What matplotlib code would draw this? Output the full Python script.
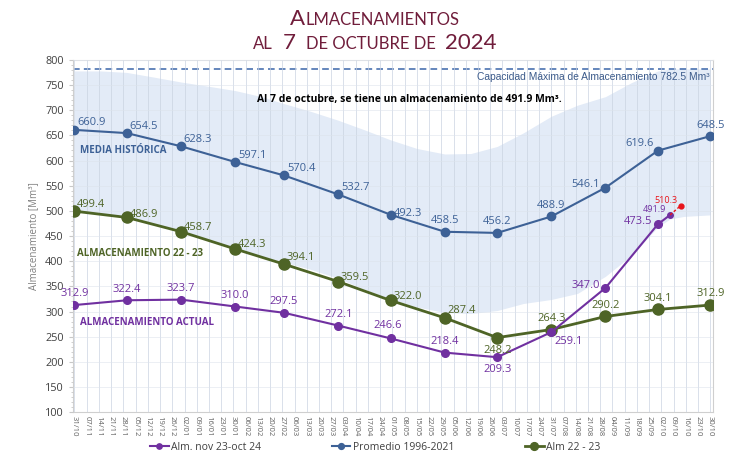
import matplotlib
matplotlib.use("Agg")
import matplotlib.pyplot as plt
import matplotlib.dates as mdates
import pandas as pd
from matplotlib.offsetbox import TextArea, HPacker, AnchoredOffsetbox
from matplotlib.ticker import MultipleLocator

plt.rcParams["font.family"] = ["Open Sans", "DejaVu Sans"]

# monthly points (day/month on the chart's reference calendar)
fechas = ["31/10", "30/11", "31/12", "31/01", "28/02", "31/03", "30/04", "31/05",
          "30/06", "31/07", "31/08", "30/09", "30/10"]
promedio = [660.9, 654.5, 628.3, 597.1, 570.4, 532.7, 492.3, 458.5, 456.2,
            488.9, 546.1, 619.6, 648.5]
alm_22_23 = [499.4, 486.9, 458.7, 424.3, 394.1, 359.5, 322.0, 287.4, 248.2,
             264.3, 290.2, 304.1, 312.9]
fechas_actual = fechas[:12] + ["07/10"]
actual = [312.9, 322.4, 323.7, 310.0, 297.5, 272.1, 246.6, 218.4, 209.3,
          259.1, 347.0, 473.5, 491.9]
fechas_pron = ["07/10", "13/10"]
pronostico = [491.9, 510.3]

capacidad = 782.5

# historical envelope (shaded band)
fechas_banda = ["31/10", "15/11", "30/11", "15/12", "31/12", "15/01", "31/01", "15/02",
                "28/02", "15/03", "31/03", "15/04", "30/04", "15/05", "31/05", "15/06",
                "30/06", "15/07", "31/07", "15/08", "31/08", "15/09", "30/09", "07/10",
                "15/10", "30/10"]
banda_max = [778, 778, 775, 766, 756, 748, 739, 727, 713, 698, 680, 661, 641,
             624, 613, 614, 628, 655, 688, 710, 727, 755, 778, 782, 782, 782]
banda_min = [499, 494, 487, 475, 459, 443, 426, 410, 398, 384, 366, 344, 325,
             309, 298, 296, 302, 316, 324, 336, 370, 412, 468, 484, 489, 492]

c_azul = "#3d6196"
c_verde = "#4e6426"
c_morado = "#7030a0"
c_rojo = "#e8141b"
c_banda = "#e3ebf7"
c_titulo = "#701d3b"


def a_fecha(lista):
    # 31/10 starts the cycle (2022), everything else falls in 2023
    out = []
    for f in lista:
        d, m = int(f[:2]), int(f[3:])
        anio = 2022 if (m, d) >= (10, 31) and not (m == 10 and d < 31) else 2023
        if m == 10 and d == 31:
            anio = 2022
        out.append(pd.Timestamp(anio, m, d))
    return pd.DatetimeIndex(out)


x = a_fecha(fechas)
xa = a_fecha(fechas_actual)
xp = a_fecha(fechas_pron)
xb = a_fecha(fechas_banda)

fig = plt.figure(figsize=(7.5, 4.57), dpi=100)
ax = fig.add_axes([0.097, 0.098, 0.854, 0.771])

ax.fill_between(xb, banda_min, banda_max, color=c_banda, lw=0, zorder=1)
ax.axhline(capacidad, color="#4a72b0", ls=(0, (4, 2.5)), lw=1.2, zorder=2)

ax.plot(x, promedio, color=c_azul, lw=1.5, marker="o", ms=6, zorder=4,
        label="Promedio 1996-2021")
ax.plot(x, alm_22_23, color=c_verde, lw=2, marker="o", ms=8, zorder=3,
        label="Alm 22 - 23")
ax.plot(xa, actual, color=c_morado, lw=1.5, marker="o", ms=5.5, zorder=5,
        label="Alm. nov 23-oct 24", markevery=list(range(12)))
ax.plot(xa[-1:], actual[-1:], color=c_morado, marker="o", ms=4, ls="none", zorder=5)
ax.plot(xp, pronostico, color=c_rojo, lw=1, ls=(0, (2, 1.5)), zorder=5)
ax.plot(xp[-1:], pronostico[-1:], color=c_rojo, marker="o", ms=3.5, ls="none", zorder=5)


# data labels: (dx, dy, ha) in points
def etiquetas(xs, ys, offs, color, size=8):
    for xi, yi, (dx, dy, ha) in zip(xs, ys, offs):
        ax.annotate(f"{yi:.1f}", (xi, yi), xytext=(dx, dy), textcoords="offset points",
                    ha=ha, va="center", color=color, fontsize=size, zorder=6)


R = (2, 5, "left")
U = (0, 8, "center")
D = (0, -9, "center")
L = (-4, 2, "right")
etiquetas(x, promedio, [R, R, R, R, R, R, (2, 1, "left"), U, U, U, L, (-3, 5, "right"), U], c_azul)
etiquetas(x, alm_22_23, [R, (2, 2, "left"), (2, 3, "left"), (2, 3, "left"), R, (2, 3, "left"),
                         (2, 3, "left"), R, D, U, U, U, U], c_verde)
etiquetas(xa[:12], actual[:12], [U, U, U, U, U, U, (-2, 9, "center"), U, D, (2, -7, "left"),
                                  L, L], c_morado)
ax.annotate(f"{actual[-1]:.1f}", (xa[-1], actual[-1]), xytext=(-3, 4), textcoords="offset points",
            ha="right", va="center", color=c_morado, fontsize=6.5)
ax.annotate(f"{pronostico[-1]:.1f}", (xp[-1], pronostico[-1]), xytext=(-2, 4),
            textcoords="offset points", ha="right", va="center", color=c_rojo, fontsize=6.5)

# series names
ax.text(0.012, 0.743, "MEDIA HISTÓRICA", transform=ax.transAxes, color=c_azul,
        fontsize=7, fontweight="bold", va="center")
ax.text(0.006, 0.451, "ALMACENAMIENTO 22 - 23", transform=ax.transAxes, color=c_verde,
        fontsize=7, fontweight="bold", va="center")
ax.text(0.012, 0.256, "ALMACENAMIENTO ACTUAL", transform=ax.transAxes, color=c_morado,
        fontsize=7, fontweight="bold", va="center")

ax.text(0.995, 0.95, "Capacidad Máxima de Almacenamiento 782.5 Mm³",
        transform=ax.transAxes, ha="right", va="center", color="#3b5a8a",
        fontsize=7.4, family=["Liberation Sans", "DejaVu Sans"])
ax.text(0.525, 0.888, "Al 7 de octubre, se tiene un almacenamiento de 491.9 Mm³.",
        transform=ax.transAxes, ha="center", va="center", color="black",
        fontsize=7.5, fontweight="bold")

# axes
ax.set_ylim(100, 800)
ax.set_xlim(x[0] - pd.Timedelta(days=1), x[-1] + pd.Timedelta(days=1.7))
ax.yaxis.set_major_locator(MultipleLocator(50))
ax.yaxis.set_minor_locator(MultipleLocator(10))
ticks_x = pd.date_range(x[0], x[-1], freq="7D")
ax.set_xticks(ticks_x)
ax.xaxis.set_major_formatter(mdates.DateFormatter("%d/%m"))
ax.tick_params(axis="x", labelrotation=-90, labelsize=5.5, labelcolor="#606060",
               length=0, pad=3)
ax.tick_params(axis="y", labelsize=7.8, labelcolor="#404040", length=3, color="#c8c8c8")
ax.tick_params(axis="y", which="minor", length=1.8, color="#c8c8c8")
ax.grid(axis="x", color="#c9d2e0", lw=0.6, alpha=0.8, zorder=1.5)
ax.grid(axis="y", color="#dde3ec", lw=0.5, alpha=0.8, zorder=1.5)
ax.set_axisbelow(False)
ax.spines["top"].set_color("#e0e0e0")
for s in ["left", "bottom", "right"]:
    ax.spines[s].set_color("#cfcfcf")
    ax.spines[s].set_linewidth(0.8)
ax.set_ylabel("Almacenamiento [Mm³]", color="#808080", fontsize=7, labelpad=4)

h, lab = ax.get_legend_handles_labels()
orden = [2, 0, 1]
fig.legend([h[i] for i in orden], [lab[i] for i in orden], loc="lower center",
           bbox_to_anchor=(0.5, -0.012), ncol=3, frameon=False, fontsize=7.5,
           columnspacing=6.8, handlelength=1.8, handletextpad=0.2,
           labelcolor="#404040", markerscale=0.7)


# title in small-caps style
def linea(palabras, y):
    cajas = []
    for partes in palabras:
        cajas.append(HPacker(children=[TextArea(t, textprops=dict(color=c_titulo, fontsize=s,
                                                                   family=["Lato", "DejaVu Sans"]))
                                       for t, s in partes], align="baseline", pad=0, sep=0))
    caja = HPacker(children=cajas, align="baseline", pad=0, sep=7)
    anc = AnchoredOffsetbox(loc="center", child=caja, frameon=False, pad=0,
                            bbox_to_anchor=(0.5, y), bbox_transform=fig.transFigure,
                            borderpad=0)
    fig.add_artist(anc)


G, P = 16, 12
linea([[("A", G), ("LMACENAMIENTOS", P)]], 0.958)
linea([[("AL", P)], [("7", G)], [("DE OCTUBRE DE", P)], [("2024", G)]], 0.905)

fig.savefig("out.png", dpi=100)
